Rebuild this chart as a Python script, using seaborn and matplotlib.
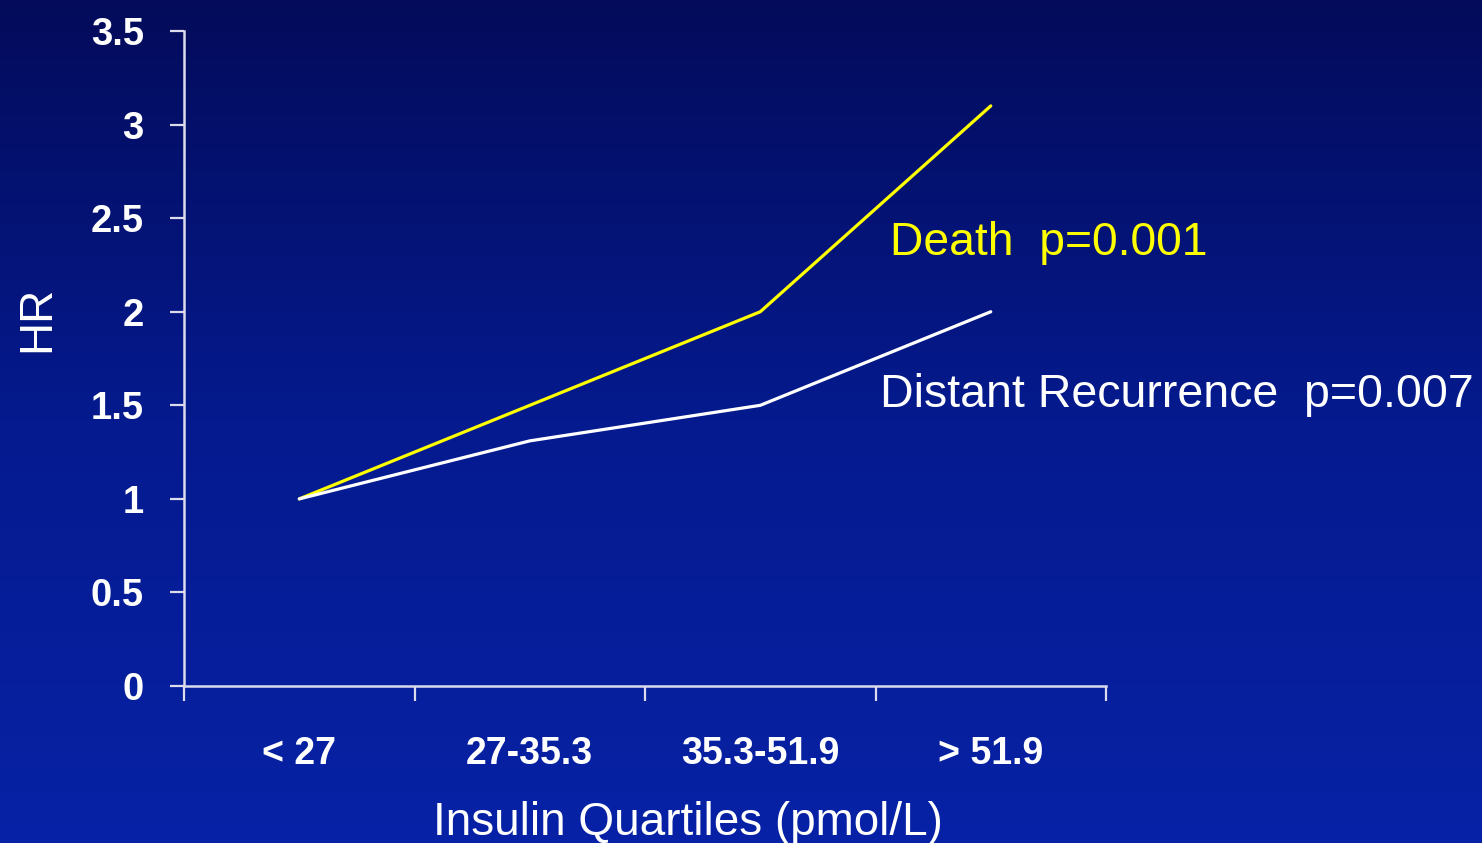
import numpy as np
import pandas as pd
import matplotlib
matplotlib.use("Agg")
import matplotlib.pyplot as plt
from matplotlib.colors import LinearSegmentedColormap
from matplotlib.ticker import FuncFormatter, FixedLocator
import seaborn as sns

# ---- data ----
quartiles = ["< 27", "27-35.3", "35.3-51.9", "> 51.9"]
death_hr = [1.0, 1.5, 2.0, 3.1]
recurrence_hr = [1.0, 1.31, 1.5, 2.0]
series_names = ["Death", "Distant Recurrence"]
series_labels = ["Death  p=0.001", "Distant Recurrence  p=0.007"]
yticks = [0, 0.5, 1, 1.5, 2, 2.5, 3, 3.5]

df = pd.DataFrame({
    "quartile": quartiles * 2,
    "HR": death_hr + recurrence_hr,
    "series": [series_names[0]] * 4 + [series_names[1]] * 4,
})

sns.set_theme(style="white")
plt.rcParams["font.family"] = ["Liberation Sans", "DejaVu Sans"]

fig = plt.figure(figsize=(14.82, 8.43), dpi=100)

# gradient background
bg = fig.add_axes([0, 0, 1, 1], zorder=-10)
cmap = LinearSegmentedColormap.from_list("bg", ["#030B5A", "#051A8E", "#0722A6"])
grad = np.linspace(0, 1, 256).reshape(-1, 1)
bg.imshow(grad, aspect="auto", cmap=cmap, extent=[0, 1, 1, 0])
bg.set_axis_off()

ax = fig.add_axes([0.1242, 0.1862, 0.6221, 0.777])
ax.set_facecolor("none")

palette = {series_names[0]: "#FFFF00", series_names[1]: "#FFFFFF"}
sns.lineplot(data=df, x="quartile", y="HR", hue="series", palette=palette,
             linewidth=2.3, ax=ax, legend=False, sort=False)

ax.set_xlim(-0.5, 3.5)
ax.set_ylim(0, 3.5)

axis_col = "#DCDCEC"
for s in ["top", "right"]:
    ax.spines[s].set_visible(False)
for s in ["left", "bottom"]:
    ax.spines[s].set_color(axis_col)
    ax.spines[s].set_linewidth(1.8)

ax.yaxis.set_major_locator(FixedLocator(yticks))
ax.yaxis.set_major_formatter(FuncFormatter(lambda v, p: f"{v:g}"))
ax.tick_params(axis="y", which="major", direction="out", length=10, width=1.6,
               color=axis_col, labelcolor="white", labelsize=27.5, pad=19, left=True)
for t in ax.get_yticklabels():
    t.set_fontweight("bold")

# x: major ticks at category boundaries, labels at category centres
ax.xaxis.set_major_locator(FixedLocator([-0.5, 0.5, 1.5, 2.5, 3.5]))
ax.xaxis.set_major_formatter(FuncFormatter(lambda v, p: ""))
ax.xaxis.set_minor_locator(FixedLocator([0, 1, 2, 3]))
ax.xaxis.set_minor_formatter(FuncFormatter(lambda v, p: quartiles[int(round(v))]))
ax.tick_params(axis="x", which="major", direction="out", length=11, width=1.6,
               color=axis_col, bottom=True)
ax.tick_params(axis="x", which="minor", length=0, labelcolor="white",
               labelsize=27, pad=36, bottom=True)
for t in ax.get_xticklabels(minor=True):
    t.set_fontweight("bold")

ax.set_xlabel("Insulin Quartiles (pmol/L)", color="white", fontsize=33)
ax.xaxis.set_label_coords(0.547, -0.176)
ax.set_ylabel("HR", color="white", fontsize=33)
ax.yaxis.set_label_coords(-0.135, 0.56)

ax.text(2.563, 2.367, series_labels[0], color="#FFFF00", fontsize=33.3,
        va="center", ha="left", clip_on=False)
ax.text(2.52, 1.553, series_labels[1], color="white", fontsize=33.5,
        va="center", ha="left", clip_on=False)

fig.savefig("out.png", dpi=100)
